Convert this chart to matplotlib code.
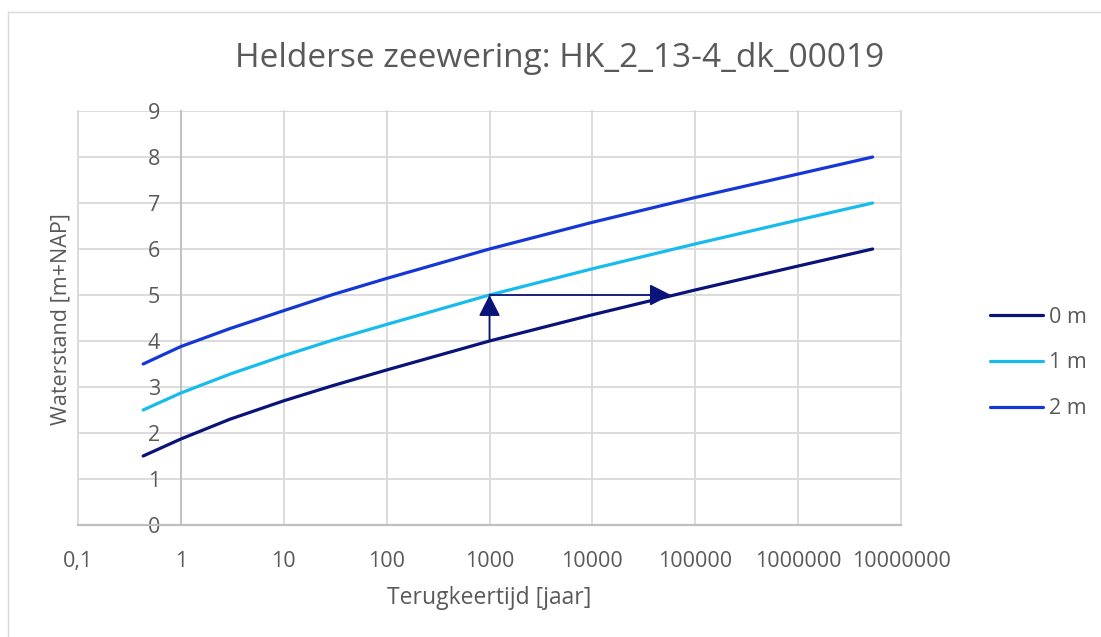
import matplotlib
matplotlib.use("Agg")
import matplotlib.pyplot as plt
from matplotlib.lines import Line2D
from matplotlib.patches import FancyArrowPatch
from matplotlib.ticker import FixedLocator, NullLocator

# Return period [years] and water level [m+NAP] per sea level rise scenario
return_period = [0.43, 1, 3, 10, 30, 100, 1000, 1e4, 1e5, 1e6, 5.3e6]
level_0m = [1.50, 1.87, 2.30, 2.70, 3.03, 3.37, 4.00, 4.57, 5.11, 5.63, 6.00]
level_1m = [2.50, 2.87, 3.28, 3.68, 4.02, 4.36, 5.00, 5.57, 6.11, 6.63, 7.00]
level_2m = [3.50, 3.88, 4.27, 4.66, 5.01, 5.36, 6.00, 6.58, 7.12, 7.63, 8.00]
series_labels = ["0 m", "1 m", "2 m"]

x_ticks = [0.1, 1, 10, 100, 1000, 10000, 100000, 1000000, 10000000]
x_tick_labels = ["0,1", "1", "10", "100", "1000", "10000", "100000", "1000000", "10000000"]
y_ticks = list(range(0, 10))

# Illustration: 1 m rise turns the 1000-year level into a ~58000-year level at 0 m
arrow_T = 1000
arrow_end_T = 58000
arrow_low = 4.0
arrow_high = 5.0

title = "Helderse zeewering: HK_2_13-4_dk_00019"
x_label = "Terugkeertijd [jaar]"
y_label = "Waterstand [m+NAP]"

W, H = 1101, 637
FONT = "Open Sans"
TEXT = "#595959"
GRID = "#D9D9D9"
AXIS = "#BFBFBF"
colors = ["#0A1378", "#18BCEC", "#1537D6"]
ARROW = "#0A1378"

fig = plt.figure(figsize=(W / 100, H / 100), dpi=100)
fig.patch.set_facecolor("white")


def fx(px):
    return px / W


def fy(py):
    return 1 - py / H


# chart border
fig.add_artist(Line2D([fx(8), fx(8)], [fy(12), 0], color=GRID, lw=1.0))
fig.add_artist(Line2D([fx(8), 1], [fy(12), fy(12)], color=GRID, lw=1.0))

left, right, top, bottom = 78, 901, 111, 525
ax = fig.add_axes([fx(left), fy(bottom), fx(right - left), fy(top) - fy(bottom)])
ax.set_xscale("log")
ax.set_xlim(0.1, 1e7)
ax.set_ylim(0, 9)

ax.xaxis.set_major_locator(FixedLocator(x_ticks))
ax.xaxis.set_minor_locator(NullLocator())
ax.set_xticklabels(x_tick_labels)
ax.set_yticks(y_ticks)
ax.yaxis.set_minor_locator(NullLocator())

ax.grid(True, color=GRID, lw=1.3)
for gl in ax.get_xgridlines() + ax.get_ygridlines():
    gl.set_clip_on(False)
ax.set_axisbelow(True)

for s in ("top", "right"):
    ax.spines[s].set_visible(False)
ax.spines["left"].set_position(("data", 1))
ax.spines["left"].set_color(AXIS)
ax.spines["left"].set_linewidth(1.3)
ax.spines["bottom"].set_color(AXIS)
ax.spines["bottom"].set_linewidth(1.6)

ax.tick_params(axis="both", length=0, labelcolor=TEXT, labelsize=15.5)
ax.tick_params(axis="x", pad=19)
ax.tick_params(axis="y", pad=15)
for lab in ax.get_xticklabels() + ax.get_yticklabels():
    lab.set_fontfamily(FONT)

for vals, c, lab in zip([level_0m, level_1m, level_2m], colors, series_labels):
    ax.plot(return_period, vals, color=c, lw=2.3, solid_capstyle="round",
            solid_joinstyle="round", label=lab, zorder=3)

arrow_kw = dict(arrowstyle="-|>,head_length=0.65,head_width=0.33",
                mutation_scale=20, color=ARROW, lw=1.3,
                shrinkA=0, shrinkB=0, zorder=4)
ax.add_patch(FancyArrowPatch((arrow_T, arrow_low), (arrow_T, arrow_high), **arrow_kw))
ax.add_patch(FancyArrowPatch((arrow_T, arrow_high), (arrow_end_T, arrow_high), **arrow_kw))

leg = ax.legend(loc="center left", bbox_to_anchor=(fx(990), fy(363)),
                bbox_transform=fig.transFigure, frameon=False,
                prop={"family": FONT, "size": 15.5}, handlelength=2.45,
                handletextpad=0.3, labelspacing=1.15, borderpad=0,
                borderaxespad=0)
for t in leg.get_texts():
    t.set_color(TEXT)

fig.text(fx(560), fy(67), title, ha="center", va="baseline",
         fontsize=24, color=TEXT, family=FONT)
fig.text(fx(489), fy(598), x_label, ha="center", va="center",
         fontsize=16.5, color=TEXT, family=FONT)
fig.text(fx(61), fy(319), y_label, ha="center", va="center", rotation=90,
         fontsize=15.5, color=TEXT, family=FONT)

fig.savefig("out.png", dpi=100, facecolor="white")
